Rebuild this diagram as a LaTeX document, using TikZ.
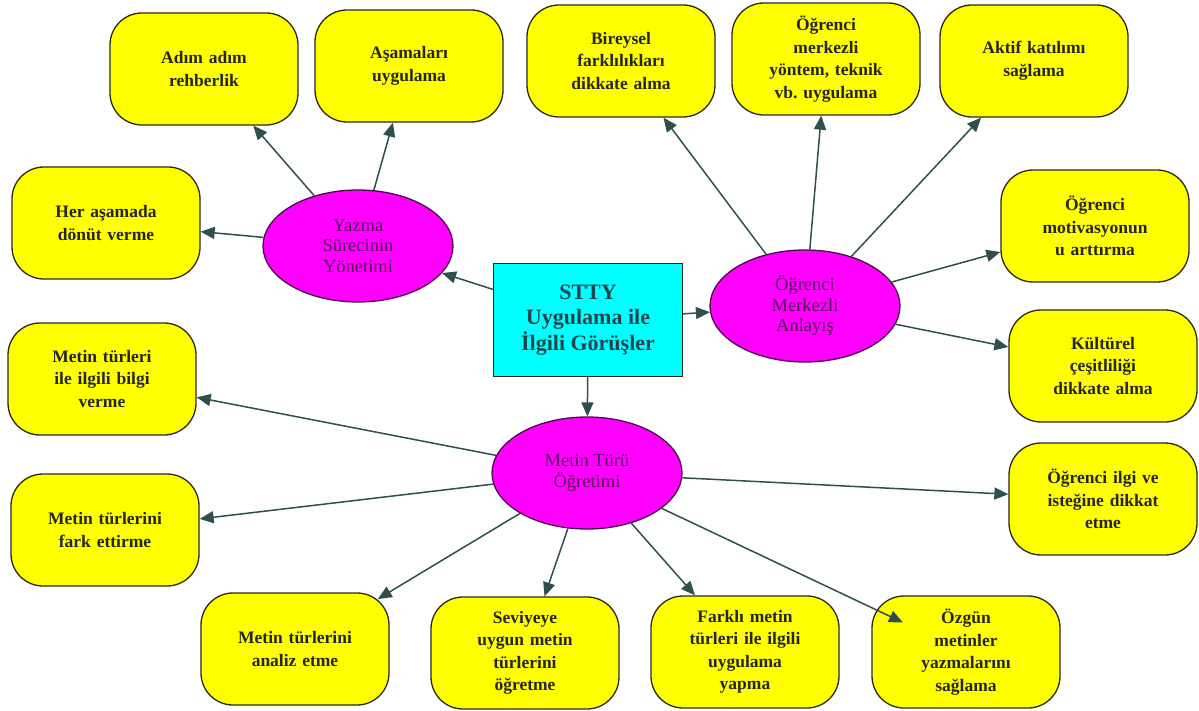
\documentclass[tikz,border=0pt]{standalone}
\usepackage{fontspec}
\setmainfont{Liberation Serif}
\frenchspacing
\usetikzlibrary{shapes.geometric,arrows.meta}
\definecolor{boxfill}{HTML}{FFFF00}
\definecolor{ellfill}{HTML}{FF00FF}
\definecolor{hubfill}{HTML}{00FFFF}
\definecolor{edgecol}{HTML}{2F4F4F}
\definecolor{elltext}{HTML}{55105A}
\definecolor{ellborder}{HTML}{4A0A4A}
\definecolor{hubtext}{HTML}{1A4650}
\definecolor{bordercol}{HTML}{2A2A1A}
\begin{document}
\begin{tikzpicture}[x=1pt,y=-1pt,
  leaf/.style={draw=bordercol, line width=1.3pt, fill=boxfill,
    rounded corners=32pt, minimum width=188pt, minimum height=112pt,
    text width=180pt, align=center, inner sep=0pt,
    font=\bfseries\fontsize{17.5}{22.5}\selectfont, text=black!85},
  theme/.style={ellipse, draw=ellborder, line width=1.3pt, fill=ellfill,
    minimum width=190pt, minimum height=112pt, inner sep=0pt, align=center,
    font=\fontsize{18.5}{20.5}\selectfont, text=elltext},
  hub/.style={draw=bordercol, line width=1.3pt, fill=hubfill,
    minimum width=189pt, minimum height=113pt, inner sep=0pt, align=center,
    font=\bfseries\fontsize{22}{25.5}\selectfont, text=hubtext},
  arr/.style={draw=edgecol, line width=1.5pt,
    -{Triangle[length=14pt,width=12pt]}}]

\useasboundingbox (0,0) rectangle (1199,711);

% hub and the three themes
\node[hub] (hub) at (588,320) {STTY\\Uygulama ile\\İlgili Görüşler};
\node[theme] (yaz) at (358,246) {Yazma\\Sürecinin\\Yönetimi};
\node[theme] (oma) at (805,306) {Öğrenci\\Merkezli\\Anlayış};
\node[theme] (mt)  at (587,473) {Metin Türü\\Öğretimi};

% writing-process leaves
\node[leaf] (adim)  at (204,69)  {Adım adım\\rehberlik};
\node[leaf] (asama) at (409,66)  {Aşamaları\\uygulama};
\node[leaf] (her)   at (106,223) {Her aşamada\\dönüt verme};

% student-centred leaves
\node[leaf] (bir)   at (621,61)   {Bireysel\\farklılıkları\\dikkate alma};
\node[leaf] (ogrm)  at (826,59)   {Öğrenci\\merkezli\\yöntem, teknik\\vb. uygulama};
\node[leaf] (aktif) at (1034,61)  {Aktif katılımı\\sağlama};
\node[leaf] (motiv) at (1095,226) {Öğrenci\\motivasyonun\\u arttırma};
\node[leaf] (kult)  at (1103,366) {Kültürel\\çeşitliliği\\dikkate alma};

% text-type leaves
\node[leaf] (bilgi)  at (102,379) {Metin türleri\\ile ilgili bilgi\\verme};
\node[leaf] (fark)   at (105,530) {Metin türlerini\\fark ettirme};
\node[leaf] (analiz) at (295,649) {Metin türlerini\\analiz etme};
\node[leaf] (sev)    at (525,653) {Seviyeye\\uygun metin\\türlerini\\öğretme};
\node[leaf] (farkli) at (745,652) {Farklı metin\\türleri ile ilgili\\uygulama\\yapma};
\node[leaf] (ozgun)  at (966,652) {Özgün\\metinler\\yazmalarını\\sağlama};
\node[leaf] (ilgi)   at (1103,499) {Öğrenci ilgi ve\\isteğine dikkat\\etme};

% connectors
\draw[arr] (hub) -- (yaz);
\draw[arr] (hub) -- (oma);
\draw[arr] (hub) -- (mt);

\draw[arr] (yaz) -- (adim);
\draw[arr] (yaz) -- (asama);
\draw[arr] (yaz) -- (her);

\draw[arr] (oma) -- (bir);
\draw[arr] (oma) -- (ogrm);
\draw[arr] (oma) -- (aktif);
\draw[arr] (oma) -- (motiv);
\draw[arr] (oma) -- (kult);

% the analiz and ozgun leaves are met inside their rounded corners
\draw[arr] (mt) -- (bilgi);
\draw[arr] (mt) -- (fark);
\draw[arr, shorten >=-13pt] (mt) -- (analiz);
\draw[arr] (mt) -- (sev);
\draw[arr] (mt) -- (farkli);
\draw[arr, shorten >=-35pt] (mt) -- (ozgun);
\draw[arr] (mt) -- (ilgi);
\end{tikzpicture}
\end{document}
